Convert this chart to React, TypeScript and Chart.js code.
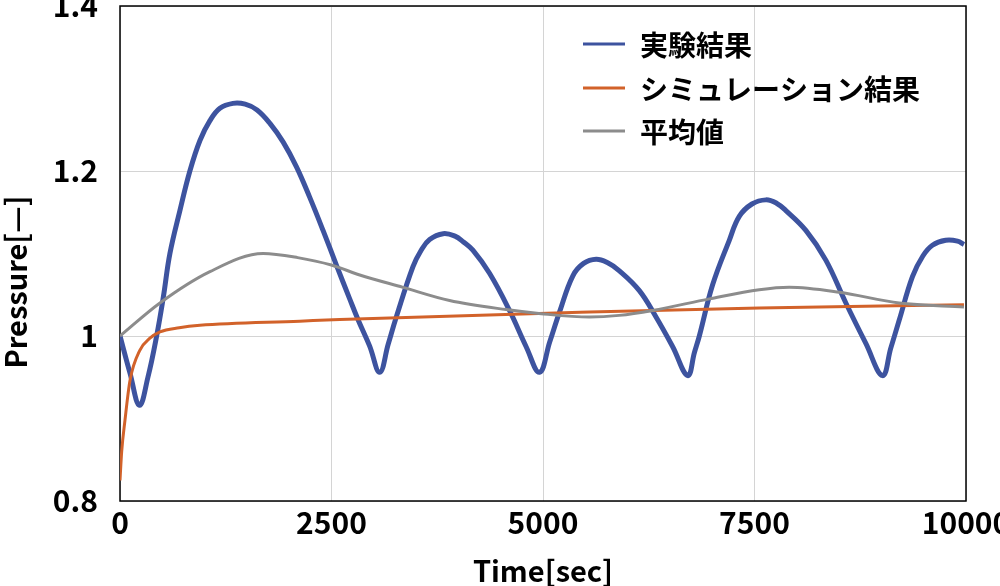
import React, { useEffect, useRef } from "react";
import { Chart, registerables } from "chart.js";

Chart.register(...registerables);

// ---- Data ----
const seriesNames = ["実験結果", "シミュレーション結果", "平均値"];

const expTime = [0, 118, 230, 330, 433, 512, 590, 708, 826, 945, 1063, 1181, 1335, 1480, 1620, 1770, 1929, 2086, 2243, 2400, 2558, 2715, 2813, 2950, 3070, 3170, 3266, 3463, 3560, 3660, 3820, 3960, 4060, 4171, 4368, 4604, 4801, 4959, 5080, 5195, 5353, 5480, 5628, 5760, 5903, 6139, 6336, 6533, 6710, 6790, 6848, 7005, 7202, 7320, 7470, 7635, 7760, 7871, 8107, 8343, 8580, 8816, 9013, 9110, 9210, 9367, 9490, 9603, 9760, 9900, 9976];
const expPressure = [1.0, 0.955, 0.916, 0.95, 1.0, 1.047, 1.1, 1.152, 1.2, 1.237, 1.261, 1.276, 1.282, 1.281, 1.274, 1.258, 1.235, 1.205, 1.168, 1.128, 1.086, 1.045, 1.02, 0.988, 0.956, 0.99, 1.023, 1.084, 1.104, 1.117, 1.124, 1.121, 1.114, 1.104, 1.076, 1.031, 0.987, 0.956, 0.993, 1.029, 1.073, 1.088, 1.093, 1.089, 1.079, 1.055, 1.023, 0.987, 0.952, 0.98, 1.0, 1.062, 1.116, 1.145, 1.16, 1.165, 1.161, 1.152, 1.128, 1.092, 1.04, 0.991, 0.952, 0.985, 1.019, 1.072, 1.097, 1.11, 1.116, 1.115, 1.111];

const simTime = [0, 20, 59, 118, 236, 350, 472, 700, 945, 2125, 2597, 5549, 7556, 9976];
const simPressure = [0.825, 0.86, 0.898, 0.946, 0.983, 0.997, 1.005, 1.01, 1.013, 1.018, 1.02, 1.029, 1.034, 1.038];

const avgTime = [0, 472, 1063, 1692, 2100, 2498, 2834, 3345, 3896, 4565, 4978, 5549, 5900, 6296, 6966, 7556, 7910, 8501, 9210, 9976];
const avgPressure = [1.0, 1.04, 1.078, 1.1, 1.095, 1.086, 1.074, 1.059, 1.043, 1.032, 1.027, 1.023, 1.025, 1.031, 1.045, 1.056, 1.059, 1.053, 1.04, 1.035];

const xTicks = [0, 2500, 5000, 7500, 10000];
const yTicks = [0.8, 1.0, 1.2, 1.4];

const xTitle = "Time[sec]";
const yTitle = "Pressure[—]";

const colors = ["#3D539F", "#D2622A", "#8C8C8C"];
const FONT = "'Noto Sans CJK JP', 'Noto Sans', sans-serif";

const toPoints = (xs: number[], ys: number[]) => xs.map((x, i) => ({ x, y: ys[i] }));

export default function App() {
  const ref = useRef<HTMLCanvasElement | null>(null);

  useEffect(() => {
    if (!ref.current) return;

    const overlay = {
      id: "overlay",
      beforeDatasetsDraw(chart: any) {
        const { ctx, chartArea } = chart;
        ctx.save();
        ctx.strokeStyle = "#000";
        ctx.lineWidth = 1.5;
        ctx.strokeRect(chartArea.left, chartArea.top, chartArea.right - chartArea.left, chartArea.bottom - chartArea.top);
        ctx.restore();
      },
      afterDraw(chart: any) {
        const { ctx, chartArea } = chart;
        ctx.save();
        // Legend
        const rows = [44, 88, 131];
        ctx.font = `bold 28px ${FONT}`;
        ctx.textBaseline = "middle";
        ctx.textAlign = "left";
        seriesNames.forEach((name, i) => {
          ctx.strokeStyle = colors[i];
          ctx.lineWidth = 3;
          ctx.beginPath();
          ctx.moveTo(583, rows[i]);
          ctx.lineTo(625, rows[i]);
          ctx.stroke();
          ctx.fillStyle = "#000";
          ctx.fillText(name, 640, rows[i] + 1);
        });
        // Axis titles
        ctx.font = `bold 29px ${FONT}`;
        ctx.textAlign = "center";
        ctx.fillText(xTitle, (chartArea.left + chartArea.right) / 2, 571);
        ctx.translate(16, 282);
        ctx.rotate(-Math.PI / 2);
        ctx.fillText(yTitle, 0, 0);
        ctx.restore();
      },
    };

    const chart = new Chart(ref.current, {
      type: "line",
      data: {
        datasets: [
          {
            label: seriesNames[0],
            data: toPoints(expTime, expPressure),
            borderColor: colors[0],
            borderWidth: 5,
            pointRadius: 0,
            tension: 0.4,
            order: 3,
          },
          {
            label: seriesNames[1],
            data: toPoints(simTime, simPressure),
            borderColor: colors[1],
            borderWidth: 3,
            pointRadius: 0,
            cubicInterpolationMode: "monotone",
            order: 2,
          },
          {
            label: seriesNames[2],
            data: toPoints(avgTime, avgPressure),
            borderColor: colors[2],
            borderWidth: 3,
            pointRadius: 0,
            cubicInterpolationMode: "monotone",
            order: 1,
          },
        ],
      },
      options: {
        responsive: false,
        animation: false,
        layout: { padding: { top: 6, right: 34, left: 0, bottom: 0 } },
        plugins: {
          legend: { display: false },
          tooltip: { enabled: false },
        },
        scales: {
          x: {
            type: "linear",
            min: 0,
            max: 10000,
            afterBuildTicks: (scale: any) => {
              scale.ticks = xTicks.map((v) => ({ value: v }));
            },
            afterFit: (scale: any) => {
              scale.height = 85;
              scale.paddingLeft = 0;
              scale.paddingRight = 0;
            },
            ticks: {
              color: "#000",
              font: { family: FONT, size: 30, weight: "bold" },
              padding: 4,
              maxRotation: 0,
              autoSkip: false,
              callback: (v: any) => String(v),
            },
            grid: { color: "#D4D4D4", lineWidth: 1, drawTicks: false },
            border: { display: false },
          },
          y: {
            type: "linear",
            min: 0.8,
            max: 1.4,
            afterBuildTicks: (scale: any) => {
              scale.ticks = yTicks.map((v) => ({ value: v }));
            },
            afterFit: (scale: any) => {
              scale.width = 120;
              scale.paddingTop = 0;
              scale.paddingBottom = 0;
            },
            ticks: {
              color: "#000",
              font: { family: FONT, size: 30, weight: "bold" },
              padding: 22,
              autoSkip: false,
              callback: (v: any) => String(Math.round(v * 10) / 10),
            },
            grid: { color: "#D4D4D4", lineWidth: 1, drawTicks: false },
            border: { display: false },
          },
        },
      },
      plugins: [overlay],
    } as any);

    return () => chart.destroy();
  }, []);

  return (
    <div style={{ position: "absolute", left: 0, top: 0, width: 1000, height: 586, background: "#fff" }}>
      <canvas ref={ref} width={1000} height={586} style={{ width: 1000, height: 586, display: "block" }} />
    </div>
  );
}
